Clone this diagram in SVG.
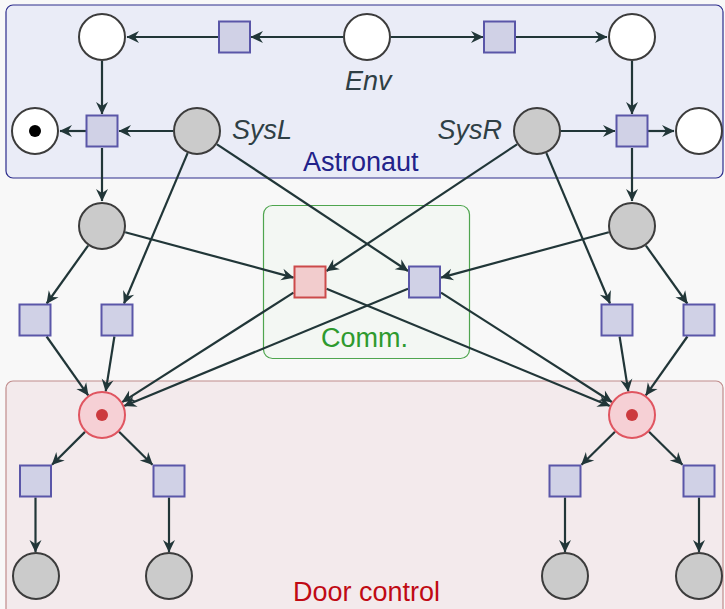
<svg xmlns="http://www.w3.org/2000/svg" width="725" height="609" viewBox="0 0 725 609">
  <defs>
    <marker id="arr" markerUnits="userSpaceOnUse" markerWidth="16" markerHeight="16" viewBox="-14 -8 16 16" refX="0" refY="0" orient="auto">
      <path d="M0.5,0 L-12,-6 L-8,0 L-12,6 Z" fill="#213638"/>
    </marker>
  </defs>
  <style>
    .box-astro { fill: #eaecf7; stroke: #2c2c8c; stroke-width: 1.2; }
    .box-comm { fill: #f3f7f3; stroke: #4ea54e; stroke-width: 1.2; }
    .box-door { fill: #f3eaec; stroke: #c08c8c; stroke-width: 1.2; }
    .place { stroke: #3c3c3c; stroke-width: 2; }
    .white { fill: #ffffff; }
    .gray { fill: #cbcbcb; }
    .redplace { fill: #f6d0d5; stroke: #e05560; stroke-width: 2; }
    .trans { fill: #d0d1e6; stroke: #5a56a8; stroke-width: 2; }
    .redtrans { fill: #f2cccd; stroke: #cc4a4a; stroke-width: 2; }
    .edge line { stroke: #213638; stroke-width: 2.2; marker-end: url(#arr); }
    .lbl { font-family: "Liberation Sans", Arial, sans-serif; font-size: 27px; }
    .it { font-style: italic; fill: #2f3f45; }
  </style>

  <rect x="0" y="0" width="725" height="609" fill="#f8f8f8"/>

  <!-- regions -->
  <g id="astronaut">
    <rect class="box-astro" x="6" y="5" width="717" height="173" rx="7"/>
    <text class="lbl" x="303" y="171" fill="#22228a">Astronaut</text>
  </g>
  <g id="comm">
    <rect class="box-comm" x="263.5" y="205.5" width="206" height="153" rx="9"/>
    <text class="lbl" x="321" y="347" fill="#2e9a2e">Comm.</text>
  </g>
  <g id="door">
    <rect class="box-door" x="6" y="381" width="717" height="240" rx="7"/>
    <text class="lbl" x="293" y="601" fill="#c00a14">Door control</text>
  </g>

  <!-- connectors -->
  <g id="edges" class="edge">
    <line x1="343" y1="37" x2="251" y2="37"/>
    <line x1="218" y1="37" x2="127" y2="37"/>
    <line x1="391" y1="37" x2="483" y2="37"/>
    <line x1="516" y1="37" x2="607" y2="37"/>
    <line x1="102" y1="61" x2="102" y2="114"/>
    <line x1="173" y1="131" x2="119" y2="131"/>
    <line x1="86" y1="131" x2="60" y2="131"/>
    <line x1="102" y1="148" x2="102" y2="201"/>
    <line x1="632" y1="61" x2="632" y2="114"/>
    <line x1="561" y1="131" x2="615" y2="131"/>
    <line x1="648" y1="131" x2="674" y2="131"/>
    <line x1="632" y1="148" x2="632" y2="201"/>

    <line x1="217" y1="144.3" x2="408" y2="271"/>
    <line x1="187.6" y1="153.1" x2="124" y2="303.5"/>
    <line x1="517" y1="144.3" x2="326.5" y2="271"/>
    <line x1="546.4" y1="153.1" x2="610" y2="303.5"/>

    <line x1="88.1" y1="245.6" x2="46.7" y2="303.5"/>
    <line x1="125.2" y1="232.2" x2="293.5" y2="277.6"/>
    <line x1="608.8" y1="232.2" x2="441" y2="277.6"/>
    <line x1="645.9" y1="245.6" x2="687.3" y2="303.5"/>

    <line x1="46.6" y1="336.5" x2="88.2" y2="395.4"/>
    <line x1="114.4" y1="336.5" x2="105.7" y2="391.3"/>
    <line x1="293.5" y1="292.6" x2="122.2" y2="402.1"/>
    <line x1="408" y1="288.8" x2="124.2" y2="405.9"/>
    <line x1="326.5" y1="288.8" x2="609.8" y2="405.9"/>
    <line x1="441" y1="292.6" x2="611.8" y2="402"/>
    <line x1="619.6" y1="336.5" x2="628.3" y2="391.3"/>
    <line x1="687.4" y1="336.5" x2="645.8" y2="395.4"/>

    <line x1="85" y1="431.9" x2="52" y2="464.7"/>
    <line x1="119.1" y1="431.8" x2="152.5" y2="464.7"/>
    <line x1="35.5" y1="497.5" x2="35.5" y2="552"/>
    <line x1="169" y1="497.5" x2="169" y2="552"/>
    <line x1="615" y1="431.8" x2="581.5" y2="464.7"/>
    <line x1="649" y1="431.8" x2="682.5" y2="464.7"/>
    <line x1="565" y1="497.5" x2="565" y2="552"/>
    <line x1="699" y1="497.5" x2="699" y2="552"/>
  </g>

  <!-- places and transitions -->
  <g id="p-env-left"><circle class="place white" cx="102" cy="37" r="23"/></g>
  <g id="t-env-left"><rect class="trans" x="219" y="21.5" width="31" height="31"/></g>
  <g id="p-env"><circle class="place white" cx="367" cy="37" r="23"/></g>
  <g id="t-env-right"><rect class="trans" x="484" y="21.5" width="31" height="31"/></g>
  <g id="p-env-right"><circle class="place white" cx="632" cy="37" r="23"/></g>
  <text class="lbl it" x="345" y="90">Env</text>

  <g id="p-done-left"><circle class="place white" cx="35" cy="131" r="23"/><circle cx="35" cy="131" r="6" fill="#000"/></g>
  <g id="t-sysl"><rect class="trans" x="86.5" y="115.5" width="31" height="31"/></g>
  <g id="p-sysl"><circle class="place gray" cx="197" cy="131" r="23"/><text class="lbl it" x="232" y="139">SysL</text></g>
  <g id="p-sysr"><circle class="place gray" cx="537" cy="131" r="23"/><text class="lbl it" x="502" y="139" text-anchor="end">SysR</text></g>
  <g id="t-sysr"><rect class="trans" x="616.5" y="115.5" width="31" height="31"/></g>
  <g id="p-done-right"><circle class="place white" cx="699" cy="131" r="23"/></g>

  <g id="p-left-mid"><circle class="place gray" cx="102" cy="226" r="23"/></g>
  <g id="p-right-mid"><circle class="place gray" cx="632" cy="226" r="23"/></g>

  <g id="t-left-a"><rect class="trans" x="19.5" y="304.5" width="31" height="31"/></g>
  <g id="t-left-b"><rect class="trans" x="101.5" y="304.5" width="31" height="31"/></g>
  <g id="t-comm-red"><rect class="redtrans" x="294.5" y="266.5" width="31" height="31"/></g>
  <g id="t-comm-blue"><rect class="trans" x="409" y="266.5" width="31" height="31"/></g>
  <g id="t-right-c"><rect class="trans" x="601.5" y="304.5" width="31" height="31"/></g>
  <g id="t-right-d"><rect class="trans" x="683.5" y="304.5" width="31" height="31"/></g>

  <g id="p-door-left"><circle class="redplace" cx="102" cy="415" r="23"/><circle cx="102" cy="415" r="6" fill="#cc3a3e"/></g>
  <g id="p-door-right"><circle class="redplace" cx="632" cy="415" r="23"/><circle cx="632" cy="415" r="6" fill="#cc3a3e"/></g>

  <g id="t-door-1"><rect class="trans" x="20" y="465.5" width="31" height="31"/></g>
  <g id="t-door-2"><rect class="trans" x="153.5" y="465.5" width="31" height="31"/></g>
  <g id="t-door-3"><rect class="trans" x="549.5" y="465.5" width="31" height="31"/></g>
  <g id="t-door-4"><rect class="trans" x="683.5" y="465.5" width="31" height="31"/></g>

  <g id="p-door-1"><circle class="place gray" cx="36" cy="576" r="23"/></g>
  <g id="p-door-2"><circle class="place gray" cx="169" cy="576" r="23"/></g>
  <g id="p-door-3"><circle class="place gray" cx="565" cy="576" r="23"/></g>
  <g id="p-door-4"><circle class="place gray" cx="699" cy="576" r="23"/></g>
</svg>
